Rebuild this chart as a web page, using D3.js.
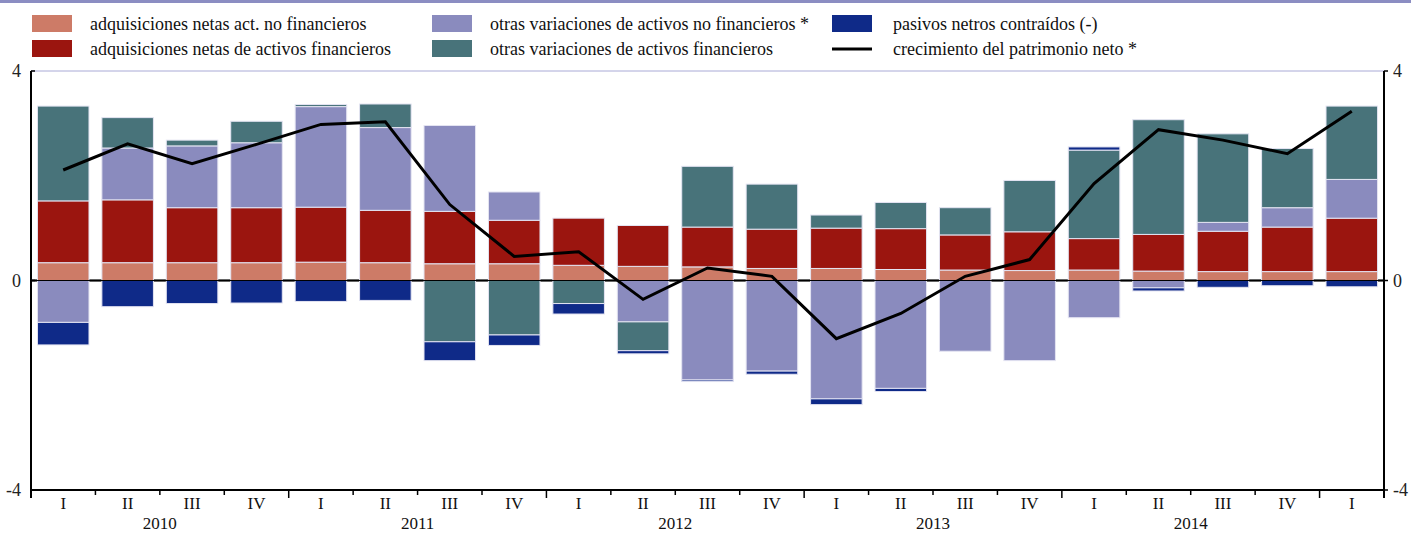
<!DOCTYPE html>
<html>
<head>
<meta charset="utf-8">
<script src="https://cdn.jsdelivr.net/npm/d3@7"></script>
<style>
  html, body { margin: 0; padding: 0; background: #fff; }
  svg { display: block; font-family: "Liberation Serif", "Times New Roman", serif; }
</style>
</head>
<body>
<svg id="chart" width="1411" height="534"></svg>
<script>
// ---- data ----
const quarters = ["I","II","III","IV","I","II","III","IV","I","II","III","IV","I","II","III","IV","I","II","III","IV","I"];
const years = ["2010","2011","2012","2013","2014"];
const seriesNames = [
  "adquisiciones netas act. no financieros",
  "adquisiciones netas de activos financieros",
  "otras variaciones de activos no financieros *",
  "otras variaciones de activos financieros",
  "pasivos netros contraídos (-)"
];
const lineName = "crecimiento del patrimonio neto *";
const adqNoFin  = [0.34,0.34,0.34,0.34,0.35,0.34,0.32,0.32,0.29,0.27,0.26,0.23,0.23,0.21,0.20,0.19,0.20,0.18,0.17,0.17,0.17];
const adqFin    = [1.18,1.20,1.05,1.05,1.05,1.00,1.00,0.83,0.90,0.78,0.76,0.75,0.77,0.78,0.67,0.74,0.60,0.70,0.77,0.85,1.02];
const otrasNoFin= [-0.80,0.99,1.18,1.24,1.92,1.58,1.64,0.54,0.00,-0.79,-1.90,-1.73,-2.26,-2.06,-1.35,-1.53,-0.71,-0.14,0.17,0.37,0.74];
const otrasFin  = [1.81,0.58,0.11,0.41,0.04,0.45,-1.17,-1.04,-0.44,-0.55,1.16,0.86,0.25,0.50,0.52,0.98,1.69,2.19,1.69,1.13,1.40];
const pasivos   = [-0.43,-0.50,-0.44,-0.43,-0.40,-0.38,-0.36,-0.20,-0.20,-0.06,-0.03,-0.06,-0.11,-0.06,0.00,0.00,0.06,-0.06,-0.13,-0.10,-0.12];
const patrimonio= [2.11,2.61,2.23,2.60,2.98,3.03,1.45,0.46,0.55,-0.36,0.24,0.08,-1.11,-0.63,0.08,0.40,1.85,2.88,2.68,2.42,3.23];
const yTicks = [-4, 0, 4];
const colors = ["#cd7b67", "#9b150f", "#8a8bbe", "#48737a", "#0f2a88"];

// ---- layout ----
const W = 1411, H = 534;
const m = {left: 31, right: 27, top: 71, bottom: 44};
const svg = d3.select("#chart");

const idx = quarters.map((q, i) => i);
const x = d3.scaleBand().domain(idx).range([m.left, W - m.right]).paddingInner(0.2).paddingOuter(0.1);
const y = d3.scaleLinear().domain([-4, 4]).range([H - m.bottom, m.top]);

// top band
svg.append("rect").attr("x", 0).attr("y", 0).attr("width", W).attr("height", 3).attr("fill", "#8b8dc2");

// plot top border
svg.append("line").attr("x1", m.left).attr("x2", W - m.right).attr("y1", y(4)).attr("y2", y(4))
  .attr("stroke", "#a9aad6").attr("stroke-width", 1);

// zero line (behind bars)
svg.append("line").attr("x1", m.left).attr("x2", W - m.right).attr("y1", y(0)).attr("y2", y(0))
  .attr("stroke", "#333").attr("stroke-width", 2.5);

// stacked bars
const rows = idx.map(i => ({i, s0: adqNoFin[i], s1: adqFin[i], s2: otrasNoFin[i], s3: otrasFin[i], s4: pasivos[i]}));
const stack = d3.stack().keys(["s0","s1","s2","s3","s4"]).offset(d3.stackOffsetDiverging);
const stacked = stack(rows);

svg.append("g").selectAll("g").data(stacked).join("g")
  .attr("fill", (d, k) => colors[k])
  .selectAll("rect").data(d => d.filter(v => v[1] !== v[0])).join("rect")
  .attr("x", d => x(d.data.i))
  .attr("width", x.bandwidth())
  .attr("y", d => y(Math.max(d[0], d[1])))
  .attr("height", d => Math.abs(y(d[0]) - y(d[1])))
  .attr("stroke", "#e4e4f2").attr("stroke-width", 1);

// zero line (thin, over bars)
svg.append("line").attr("x1", m.left).attr("x2", W - m.right).attr("y1", y(0)).attr("y2", y(0))
  .attr("stroke", "#000").attr("stroke-width", 1);

// net worth line
const line = d3.line().x((d, i) => x(i) + x.bandwidth() / 2).y(d => y(d));
svg.append("path").datum(patrimonio).attr("d", line)
  .attr("fill", "none").attr("stroke", "#000").attr("stroke-width", 3).attr("stroke-linejoin", "miter");

// axes
const axisColor = "#000";
const xAxisY = y(-4);
svg.append("line").attr("x1", m.left).attr("x2", W - m.right).attr("y1", xAxisY).attr("y2", xAxisY)
  .attr("stroke", axisColor).attr("stroke-width", 2);
svg.append("line").attr("x1", m.left).attr("x2", m.left).attr("y1", y(4)).attr("y2", xAxisY + 8)
  .attr("stroke", axisColor).attr("stroke-width", 2);
svg.append("line").attr("x1", W - m.right).attr("x2", W - m.right).attr("y1", y(4)).attr("y2", xAxisY + 8)
  .attr("stroke", axisColor).attr("stroke-width", 2);

// y tick marks and labels
const yl = svg.append("g");
yTicks.forEach(t => {
  yl.append("line").attr("x1", m.left).attr("x2", m.left + 4).attr("y1", y(t)).attr("y2", y(t)).attr("stroke", axisColor).attr("stroke-width", 1.5);
  yl.append("line").attr("x1", W - m.right).attr("x2", W - m.right + 4).attr("y1", y(t)).attr("y2", y(t)).attr("stroke", axisColor).attr("stroke-width", 1.5);
  yl.append("text").attr("x", m.left - 10).attr("y", y(t)).attr("dy", "0.35em").attr("text-anchor", "end")
    .attr("font-size", 18).attr("fill", "#222").text(t);
  yl.append("text").attr("x", W - m.right + 9).attr("y", y(t)).attr("dy", "0.35em").attr("text-anchor", "start")
    .attr("font-size", 18).attr("fill", "#222").text(t);
});

// x ticks at category boundaries
const step = x.step();
const xt = svg.append("g");
for (let i = 1; i < quarters.length; i++) {
  const bx = x(i) - (step - x.bandwidth()) / 2;
  const long = i % 4 === 0;
  xt.append("line").attr("x1", bx).attr("x2", bx).attr("y1", xAxisY).attr("y2", xAxisY + (long ? 8 : 5))
    .attr("stroke", axisColor).attr("stroke-width", 1.5);
}
// quarter labels
svg.append("g").selectAll("text").data(quarters).join("text")
  .attr("x", (d, i) => x(i) + x.bandwidth() / 2)
  .attr("y", xAxisY + 19)
  .attr("text-anchor", "middle").attr("font-size", 17).attr("fill", "#111")
  .text(d => d);
// year labels
svg.append("g").selectAll("text").data(years).join("text")
  .attr("x", (d, k) => (x(k * 4) + x(k * 4 + 3) + x.bandwidth()) / 2)
  .attr("y", xAxisY + 39)
  .attr("text-anchor", "middle").attr("font-size", 17).attr("fill", "#111")
  .text(d => d);

// legend
const legendItems = [
  {name: seriesNames[0], color: colors[0], col: 0, row: 0},
  {name: seriesNames[1], color: colors[1], col: 0, row: 1},
  {name: seriesNames[2], color: colors[2], col: 1, row: 0},
  {name: seriesNames[3], color: colors[3], col: 1, row: 1},
  {name: seriesNames[4], color: colors[4], col: 2, row: 0},
  {name: lineName, color: "#000", col: 2, row: 1, line: true}
];
const colX = [32, 432, 832];
const rowY = [15, 40];
const lg = svg.append("g");
legendItems.forEach(it => {
  const gx = colX[it.col], gy = rowY[it.row];
  if (it.line) {
    lg.append("line").attr("x1", gx).attr("x2", gx + 40).attr("y1", gy + 9).attr("y2", gy + 9)
      .attr("stroke", "#000").attr("stroke-width", 3);
  } else {
    lg.append("rect").attr("x", gx).attr("y", gy).attr("width", 40).attr("height", 17).attr("fill", it.color);
  }
  lg.append("text").attr("x", gx + 58 + (it.col === 2 ? 3 : 0)).attr("y", gy + 9).attr("dy", "0.35em")
    .attr("font-size", 18).attr("fill", "#111").text(it.name);
});
</script>
</body>
</html>
